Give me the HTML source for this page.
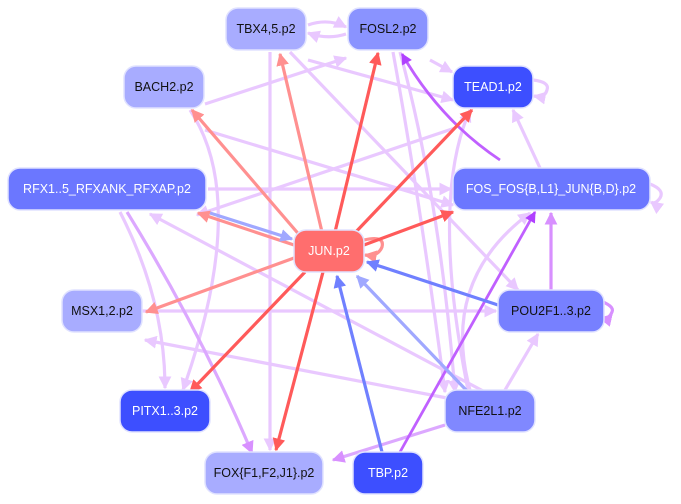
<!DOCTYPE html>
<html><head><meta charset="utf-8"><style>
body{margin:0;background:#fff;width:681px;height:504px;overflow:hidden}
svg{display:block}
text{font-family:"Liberation Sans",sans-serif;font-size:12.5px;text-anchor:middle;dominant-baseline:central}
</style></head><body>
<svg width="681" height="504" viewBox="0 0 681 504">
<defs>
<marker id="mL" viewBox="0 0 10 10" refX="9" refY="5" markerWidth="4" markerHeight="4" orient="auto"><path d="M0,0L10,5L0,10z" fill="#e9c8ff"/></marker>
<marker id="mR" viewBox="0 0 10 10" refX="9" refY="5" markerWidth="4" markerHeight="4" orient="auto"><path d="M0,0L10,5L0,10z" fill="#ff5a5a"/></marker>
<marker id="mS" viewBox="0 0 10 10" refX="9" refY="5" markerWidth="4" markerHeight="4" orient="auto"><path d="M0,0L10,5L0,10z" fill="#ff9090"/></marker>
<marker id="mB" viewBox="0 0 10 10" refX="9" refY="5" markerWidth="4" markerHeight="4" orient="auto"><path d="M0,0L10,5L0,10z" fill="#7080ff"/></marker>
<marker id="mBL" viewBox="0 0 10 10" refX="9" refY="5" markerWidth="4" markerHeight="4" orient="auto"><path d="M0,0L10,5L0,10z" fill="#a0a8ff"/></marker>
<marker id="mP" viewBox="0 0 10 10" refX="9" refY="5" markerWidth="4" markerHeight="4" orient="auto"><path d="M0,0L10,5L0,10z" fill="#b040ff"/></marker>
<marker id="mM" viewBox="0 0 10 10" refX="9" refY="5" markerWidth="4" markerHeight="4" orient="auto"><path d="M0,0L10,5L0,10z" fill="#d890ff"/></marker>
</defs>
<g fill="none" stroke-width="3.2">
<g stroke="#e9c8ff" marker-end="url(#mL)">
<path d="M308,25 Q328,18 346,27"/>
<path d="M346,34 Q328,40 308,33"/>
<path d="M205,104 L346,58"/>
<path d="M308,60 L453,100"/>
<path d="M430,60 L452,72"/>
<path d="M533,80 Q550,82 547,90 Q545,98 534,96"/>
<path d="M205,130 L453,205"/>
<path d="M455,128 L197,215"/>
<path d="M540,168 L513,110"/>
<path d="M208,189 L451,189"/>
<path d="M650,184 Q665,190 660,198 Q655,205 651,202"/>
<path d="M270,52 L270,450"/>
<path d="M290,52 L518,290"/>
<path d="M393,52 Q420,200 445,392"/>
<path d="M400,52 Q440,200 455,392"/>
<path d="M190,110 Q250,200 183,390"/>
<path d="M120,212 Q165,300 165,388"/>
<path d="M485,392 L150,214"/>
<path d="M142,311 L496,311"/>
<path d="M505,390 L538,334"/>
<path d="M470,390 Q440,280 530,213"/>
<path d="M468,390 Q430,200 470,110"/>
<path d="M447,398 L145,340"/>
</g>
<g stroke="#dca8ff" marker-end="url(#mM)">
<path d="M127,212 Q200,330 252,453"/>
<path d="M445,425 L333,460"/>
</g>
<g stroke="#d890ff" marker-end="url(#mM)">
<path d="M551,290 L551,213"/>
<path d="M598,300 Q615,306 612,312 Q609,320 600,318"/>
</g>
<g stroke="#c060ff" stroke-width="2.8" marker-end="url(#mP)">
<path d="M500,160 Q440,120 402,54"/>
<path d="M400,452 L535,212"/>
</g>
<g stroke="#ff9090" marker-end="url(#mS)">
<path d="M302,238 L192,110"/>
<path d="M322,232 L280,54"/>
<path d="M294,245 L198,213"/>
<path d="M294,258 L146,312"/>
<path d="M364,240 Q385,235 382,247 Q378,257 365,255"/>
</g>
<g stroke="#ff5a5a" marker-end="url(#mR)">
<path d="M335,232 L378,53"/>
<path d="M352,236 L472,110"/>
<path d="M364,245 L453,212"/>
<path d="M305,272 L190,392"/>
<path d="M323,272 L276,450"/>
</g>
<g stroke="#a0a8ff" marker-end="url(#mBL)">
<path d="M210,213 L292,239"/>
<path d="M468,392 L357,276"/>
</g>
<g stroke="#7080ff" marker-end="url(#mB)">
<path d="M498,305 L367,262"/>
<path d="M382,452 L337,276"/>
</g>
</g>
<g stroke="#e0e2ff" stroke-width="1.5">
<rect x="226" y="8" width="80" height="42" rx="12" fill="#a8acff"/>
<rect x="348" y="8" width="80" height="42" rx="12" fill="#8a93ff"/>
<rect x="124" y="66" width="80" height="42" rx="12" fill="#a8acff"/>
<rect x="453" y="66" width="80" height="42" rx="12" fill="#3d4fff"/>
<rect x="8" y="168" width="198" height="42" rx="12" fill="#6b77ff"/>
<rect x="453" y="168" width="197" height="42" rx="12" fill="#6b77ff"/>
<rect x="294" y="230" width="70" height="42" rx="12" fill="#ff6e6e"/>
<rect x="62" y="290" width="80" height="42" rx="12" fill="#a8acff"/>
<rect x="498" y="290" width="106" height="42" rx="12" fill="#7780ff"/>
<rect x="120" y="390" width="90" height="42" rx="12" fill="#3d4fff"/>
<rect x="445" y="390" width="90" height="42" rx="12" fill="#8088ff"/>
<rect x="205" y="452" width="118" height="42" rx="12" fill="#a8acff"/>
<rect x="353" y="452" width="70" height="42" rx="12" fill="#3d4fff"/>
</g>
<g fill="#111">
<text x="266" y="29">TBX4,5.p2</text>
<text x="388" y="29">FOSL2.p2</text>
<text x="164" y="87">BACH2.p2</text>
<text x="493" y="87" fill="#fff">TEAD1.p2</text>
<text x="107" y="189" fill="#fff">RFX1..5_RFXANK_RFXAP.p2</text>
<text x="551" y="189" fill="#fff">FOS_FOS{B,L1}_JUN{B,D}.p2</text>
<text x="329" y="251" fill="#fff">JUN.p2</text>
<text x="102" y="311">MSX1,2.p2</text>
<text x="551" y="311">POU2F1..3.p2</text>
<text x="165" y="411" fill="#fff">PITX1..3.p2</text>
<text x="490" y="411">NFE2L1.p2</text>
<text x="264" y="473">FOX{F1,F2,J1}.p2</text>
<text x="388" y="473" fill="#fff">TBP.p2</text>
</g>
</svg>
</body></html>
